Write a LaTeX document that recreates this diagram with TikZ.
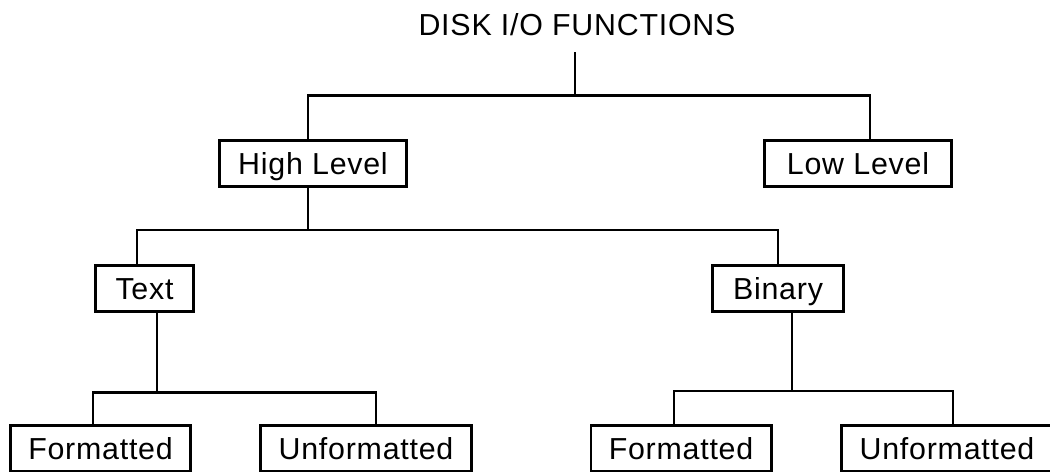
\documentclass[tikz,border=0pt]{standalone}
\usepackage{fontspec}
\setmainfont[LetterSpace=2.5]{Liberation Sans}
\usetikzlibrary{positioning,calc}
\tikzset{
  lbl/.style  = {font=\fontsize{21.6pt}{26pt}\selectfont,
                 text height=0.55cm, text depth=0pt},
  box/.style  = {rectangle, draw, line width=2.1pt, inner sep=0pt,
                 minimum height=1.15cm, lbl},
  link/.style = {line width=2.1pt}
}
\begin{document}
\begin{tikzpicture}[x=0.025cm,y=-0.025cm]
        \useasboundingbox (0,0) rectangle (1050,472);
        \node[lbl,anchor=base,inner ysep=0.4cm] (title) at (577,36) {DISK I/O FUNCTIONS};
        \node[box,minimum width=4.675cm] (high) at (313,163.5) {High Level};
        \node[box,minimum width=4.675cm] (low) at (858,163.5) {Low Level};
        \node[box,minimum width=2.45cm] (text) at (144.5,288.5) {Text};
        \node[box,minimum width=3.275cm] (binary) at (778,288.5) {Binary};
        \node[box,minimum width=4.5cm] (fmtA) at (100.5,448.5) {Formatted};
        \node[box,minimum width=5.275cm] (unfA) at (366,448.5) {Unformatted};
        \node[box,minimum width=4.5cm] (fmtB) at (681,448.5) {Formatted};
        \node[box,minimum width=5.275cm] (unfB) at (947,448.5) {Unformatted};
        \coordinate (j0) at (575,95.5);
        \coordinate (j1) at (308,230);
        \coordinate (j2) at (157,392.5);
        \coordinate (j3) at (792,391);
        \draw[link](title.south -| j0)--(j0);
        \draw[link]($(high.north)+(-5,0)$) |- (j0) -| ($(low.north)+(12,0)$);
        \draw[link](high.south -| j1)--(j1);
        \draw[link]($(text.north)+(-7.5,0)$) |- (j1) -| (binary.north);
        \draw[link](text.south -| j2)--(j2);
        \draw[link]($(fmtA.north)+(-7.5,0)$) |- (j2) -| ($(unfA.north)+(10,0)$);
        \draw[link](binary.south -| j3)--(j3);
        \draw[link]($(fmtB.north)+(-7,0)$) |- (j3) -| ($(unfB.north)+(6,0)$);
      \end{tikzpicture}
\end{document}
